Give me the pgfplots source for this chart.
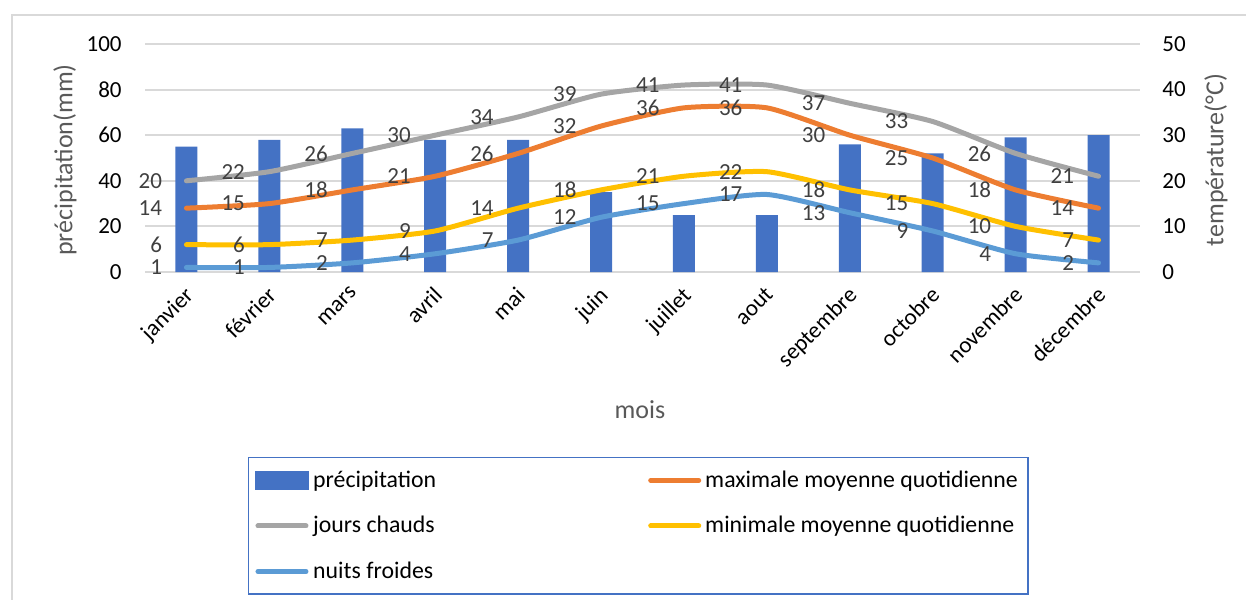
\documentclass[border=0pt]{standalone}
\usepackage{fontspec}
\setmainfont{Carlito}
\usepackage{pgfplots}
\pgfplotsset{compat=1.18}
\definecolor{cbar}{HTML}{4472C4}
\definecolor{corange}{HTML}{ED7D31}
\definecolor{cgray}{HTML}{A5A5A5}
\definecolor{cyellow}{HTML}{FFC000}
\definecolor{clblue}{HTML}{5B9BD5}
\definecolor{cgrid}{HTML}{D9D9D9}
\definecolor{ctitle}{HTML}{595959}
\definecolor{clabel}{HTML}{404040}
\begin{document}
\begin{tikzpicture}
\useasboundingbox (-72.5pt,-163.5pt) rectangle (550.5pt,136pt);
\draw[cgrid, line width=1pt] (-66.5pt,-164pt) -- (-66.5pt,128.5pt) -- (551pt,128.5pt);
\pgfplotsset{
  common/.style={
    width=497.5pt, height=114pt, scale only axis,
    at={(0,0)}, anchor=south west,
    xmin=-0.5, xmax=11.5,
    axis line style={draw=none},
    tick style={draw=none},
    ymin=0,
    font=\fontsize{11.5}{13}\selectfont,
    /pgf/number format/assume math mode=true,
    clip=false,
  }
}
\begin{axis}[common,
  ymax=100, ytick={0,20,...,100},
  ymajorgrids, major grid style={cgrid, line width=1pt},
  xtick={0,...,11},
  xticklabels={janvier,février,mars,avril,mai,juin,juillet,aout,septembre,octobre,novembre,décembre},
  xticklabel style={xshift=-1.5pt, yshift=-6.5pt, rotate=45, anchor=north east, inner sep=0pt},
  yticklabel style={anchor=east, inner sep=0pt, xshift=-11.5pt},
  ylabel={précipitation(mm)},
  ylabel style={at={(axis description cs:-0.0804,0.491)}, anchor=center, text=ctitle, font=\fontsize{13}{15}\selectfont},
  xlabel={mois},
  xlabel style={at={(axis description cs:0.4975,-0.605)}, anchor=center, text=ctitle, font=\fontsize{13}{15}\selectfont},
]
\addplot[ybar, bar width=11pt, fill=cbar, draw=none] coordinates {
(0,55) (1,58) (2,63) (3,58) (4,58) (5,35) (6,25) (7,25) (8,56) (9,52) (10,59) (11,60)};
\end{axis}
\begin{axis}[common,
  ymax=50, ytick={0,10,...,50},
  xtick=\empty,
  yticklabel pos=right,
  yticklabel style={anchor=west, inner sep=0pt, xshift=11pt},
  ylabel={température(°C)},
  ylabel style={at={(axis description cs:1.0764,0.491)}, anchor=center, text=ctitle, font=\fontsize{13}{15}\selectfont},
  nodes near coords,
  every node near coord/.append style={anchor=east, xshift=-11pt, inner sep=0pt, text=clabel, font=\fontsize{11.5}{13}\selectfont},
  legend columns=2,
  legend cell align=left,
  legend image code/.code={\draw[#1] (2.75pt,0pt) -- (26.75pt,0pt);},
  legend style={at={(0.1035,-0.811)}, anchor=north west, draw=cbar, line width=0.75pt, fill=white,
    font=\fontsize{11.9}{13}\selectfont, row sep=9pt, inner xsep=3pt, inner ysep=4.5pt},
]
\addlegendimage{legend image code/.code={\fill[cbar] (1.5pt,-4.25pt) rectangle (28pt,4.25pt);}}
\addlegendentry{\makebox[165.5pt][l]{précipitation}}
\addplot[corange, line width=2.5pt, smooth, tension=0.35, line cap=round, line join=round] coordinates {
(0,14) (1,15) (2,18) (3,21) (4,26) (5,32) (6,36) (7,36) (8,30) (9,25) (10,18) (11,14)};
\addlegendentry{maximale moyenne quotidienne}
\addplot[cgray, line width=2.5pt, smooth, tension=0.35, line cap=round, line join=round] coordinates {
(0,20) (1,22) (2,26) (3,30) (4,34) (5,39) (6,41) (7,41) (8,37) (9,33) (10,26) (11,21)};
\addlegendentry{\makebox[165.5pt][l]{jours chauds}}
\addplot[cyellow, line width=2.5pt, smooth, tension=0.35, line cap=round, line join=round] coordinates {
(0,6) (1,6) (2,7) (3,9) (4,14) (5,18) (6,21) (7,22) (8,18) (9,15) (10,10) (11,7)};
\addlegendentry{minimale moyenne quotidienne}
\addplot[clblue, line width=2.5pt, smooth, tension=0.35, line cap=round, line join=round] coordinates {
(0,1) (1,1) (2,2) (3,4) (4,7) (5,12) (6,15) (7,17) (8,13) (9,9) (10,4) (11,2)};
\addlegendentry{\makebox[165.5pt][l]{nuits froides}}
\end{axis}
\end{tikzpicture}
\end{document}
